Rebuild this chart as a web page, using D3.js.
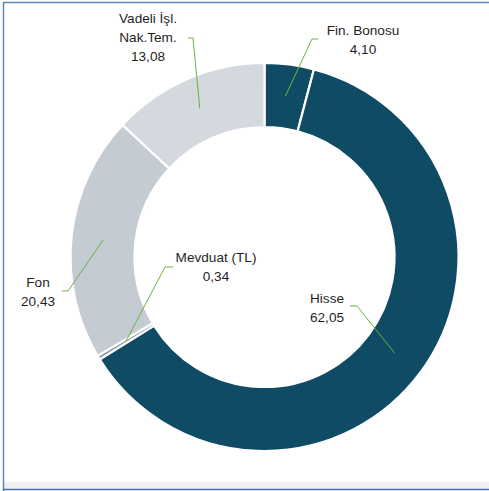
<!DOCTYPE html>
<html lang="tr">
<head>
<meta charset="utf-8" />
<title>Portföy dağılımı</title>
<script src="https://d3js.org/d3.v7.min.js"></script>
<style>
  html, body { margin: 0; padding: 0; background: #fff; }
  svg { display: block; }
</style>
</head>
<body>
<div id="chart"></div>
<script>
    // slice data, clockwise from 12 o'clock
    const categories = ["Fin. Bonosu", "Hisse", "Mevduat (TL)", "Fon", "Vadeli İşl. Nak.Tem."];
    const values = [4.10, 62.05, 0.34, 20.43, 13.08];
    const valueLabels = ["4,10", "62,05", "0,34", "20,43", "13,08"];
    const labelLines = [["Fin. Bonosu"], ["Hisse"], ["Mevduat (TL)"], ["Fon"], ["Vadeli İşl.", "Nak.Tem."]];
    const colors = ["#0f4b65", "#0f4b65", "#8d9bab", "#c4cbd2", "#d3d9df"];

    // label layout: text centre x, first baseline y, elbow point, end of the short horizontal
    const labelPos = [
        {x: 363, y: 35, elbow: [312, 39], end: [318, 39]},
        {x: 327, y: 303, elbow: [357, 306], end: [350, 306]},
        {x: 216, y: 262, elbow: [165, 267], end: [173, 267]},
        {x: 38,  y: 287, elbow: [68, 291],  end: [62, 291]},
        {x: 148, y: 23,  elbow: [193, 38],  end: [188, 38]}
    ];

    const width = 489, height = 491;
    const cx = 264.5, cy = 257, outerR = 194, innerR = 130;

    const svg = d3.select("#chart").append("svg")
        .attr("width", width)
        .attr("height", height);

    // frame
    svg.append("rect").attr("x", 3).attr("y", 482).attr("width", width - 3).attr("height", 7).attr("fill", "#efefef");
    svg.append("line").attr("x1", 3.5).attr("y1", 2).attr("x2", 3.5).attr("y2", 491).attr("stroke", "#5a89c0").attr("stroke-width", 1.5);
    svg.append("line").attr("x1", 3).attr("y1", 2.5).attr("x2", width).attr("y2", 2.5).attr("stroke", "#5a89c0").attr("stroke-width", 1.5);
    svg.append("line").attr("x1", 3).attr("y1", 489.5).attr("x2", width).attr("y2", 489.5).attr("stroke", "#3f72ad").attr("stroke-width", 1.5);

    const pie = d3.pie().sort(null).value(d => d)(values);
    const arc = d3.arc().innerRadius(innerR).outerRadius(outerR);

    const g = svg.append("g").attr("transform", `translate(${cx},${cy})`);

    g.selectAll("path.slice")
        .data(pie)
        .join("path")
        .attr("class", "slice")
        .attr("d", arc)
        .attr("fill", (d, i) => colors[i])
        .attr("stroke", "#fff")
        .attr("stroke-width", 2.2);

    // leader lines: from slice centroid to elbow, then a short horizontal
    svg.selectAll("polyline.leader")
        .data(pie)
        .join("polyline")
        .attr("class", "leader")
        .attr("points", (d, i) => {
            const c = arc.centroid(d);
            const p = labelPos[i];
            return [[c[0] + cx, c[1] + cy], p.elbow, p.end].map(q => q.join(",")).join(" ");
        })
        .attr("fill", "none")
        .attr("stroke", "#6cb33f")
        .attr("stroke-width", 1);

    // labels
    const lab = svg.selectAll("text.lbl")
        .data(pie)
        .join("text")
        .attr("class", "lbl")
        .attr("text-anchor", "middle")
        .attr("font-family", "'Liberation Sans', Arial, sans-serif")
        .attr("font-size", 13.6)
        .attr("fill", "#1f1f1f");

    lab.each(function(d, i) {
        const t = d3.select(this);
        const lines = labelLines[i].concat([valueLabels[i]]);
        lines.forEach((s, k) => {
            t.append("tspan")
                .attr("x", labelPos[i].x)
                .attr("y", labelPos[i].y + k * 19)
                .text(s);
        });
    });
</script>
</body>
</html>
